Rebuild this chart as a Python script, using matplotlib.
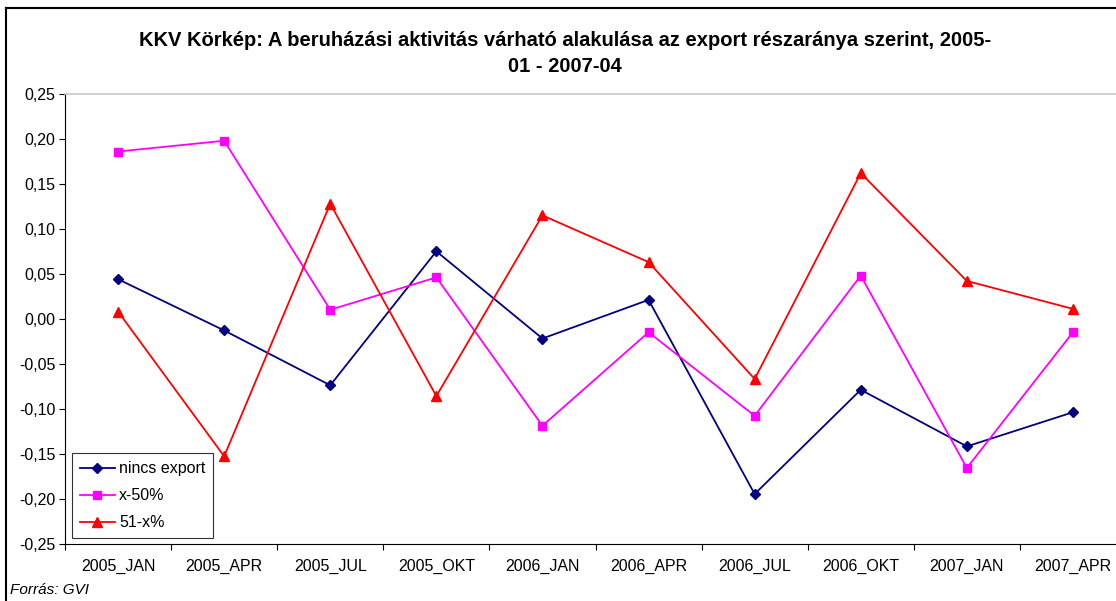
import matplotlib
matplotlib.use("Agg")
import matplotlib.pyplot as plt
from matplotlib.lines import Line2D
from matplotlib.ticker import FixedLocator, FuncFormatter

plt.rcParams['font.family'] = ['Liberation Sans', 'DejaVu Sans']

categories = ["2005_JAN", "2005_APR", "2005_JUL", "2005_OKT", "2006_JAN",
              "2006_APR", "2006_JUL", "2006_OKT", "2007_JAN", "2007_APR"]
nincs_export = [0.044, -0.013, -0.074, 0.075, -0.022, 0.021, -0.195, -0.079, -0.142, -0.104]
x_50 = [0.186, 0.198, 0.010, 0.046, -0.119, -0.015, -0.108, 0.048, -0.166, -0.015]
x51 = [0.008, -0.153, 0.128, -0.086, 0.115, 0.063, -0.067, 0.162, 0.042, 0.011]
yticks = [-0.25, -0.20, -0.15, -0.10, -0.05, 0.00, 0.05, 0.10, 0.15, 0.20, 0.25]

fig = plt.figure(figsize=(11.16, 6.01), dpi=100)
ax = fig.add_axes([65/1116, 57.5/601, 1061/1116, 449.5/601])

x = list(range(len(categories)))
ax.plot(x, nincs_export, color='#000080', lw=1.3, marker='D', ms=5.5, label='nincs export')
ax.plot(x, x_50, color='#FF00FF', lw=1.3, marker='s', ms=6, label='x-50%')
ax.plot(x, x51, color='#FF0000', lw=1.3, marker='^', ms=7, label='51-x%')

ax.set_xlim(-0.5, len(categories) - 0.5)
ax.set_ylim(-0.25, 0.25)
ax.set_yticks(yticks)
ax.yaxis.set_major_formatter(FuncFormatter(lambda v, p: f"{v:.2f}".replace('.', ',').replace('-0,00', '0,00')))
ax.set_xticks(x)
ax.set_xticklabels(categories)
ax.xaxis.set_minor_locator(FixedLocator([i - 0.5 for i in range(len(categories) + 1)]))
ax.tick_params(axis='x', which='major', length=0, pad=11, labelsize=11.5)
ax.tick_params(axis='x', which='minor', length=4, direction='out', width=0.8)
ax.tick_params(axis='y', length=4, direction='out', width=0.8, labelsize=11.5, pad=3)

for s in ['left', 'bottom']:
    ax.spines[s].set_color('black')
    ax.spines[s].set_linewidth(0.8)
for s in ['top', 'right']:
    ax.spines[s].set_color('#C8C8C8')
    ax.spines[s].set_linewidth(1.2)

leg = ax.legend(loc='lower left', bbox_to_anchor=(0.0065, 0.012), frameon=True, fancybox=False,
                edgecolor='black', fontsize=11.5, handlelength=2.2, borderpad=0.5,
                labelspacing=0.75, handletextpad=0.25, borderaxespad=0)
leg.get_frame().set_linewidth(0.8)

fig.text(565/1116, 1 - 40/601, "KKV Körkép: A beruházási aktivitás várható alakulása az export részaránya szerint, 2005-",
         ha='center', va='center', fontsize=14.5, fontweight='bold')
fig.text(565/1116, 1 - 66/601, "01 - 2007-04", ha='center', va='center', fontsize=14.5, fontweight='bold')
fig.text(10/1116, 1 - 590/601, "Forrás: GVI", ha='left', va='center', fontsize=11, style='italic')

# chart-area border (top and left visible)
fig.add_artist(Line2D([6/1116, 6/1116], [0, 1 - 8/601], transform=fig.transFigure, color='black', lw=1.5))
fig.add_artist(Line2D([6/1116, 1], [1 - 8/601, 1 - 8/601], transform=fig.transFigure, color='black', lw=1.5))

fig.savefig("out.png", dpi=100)
